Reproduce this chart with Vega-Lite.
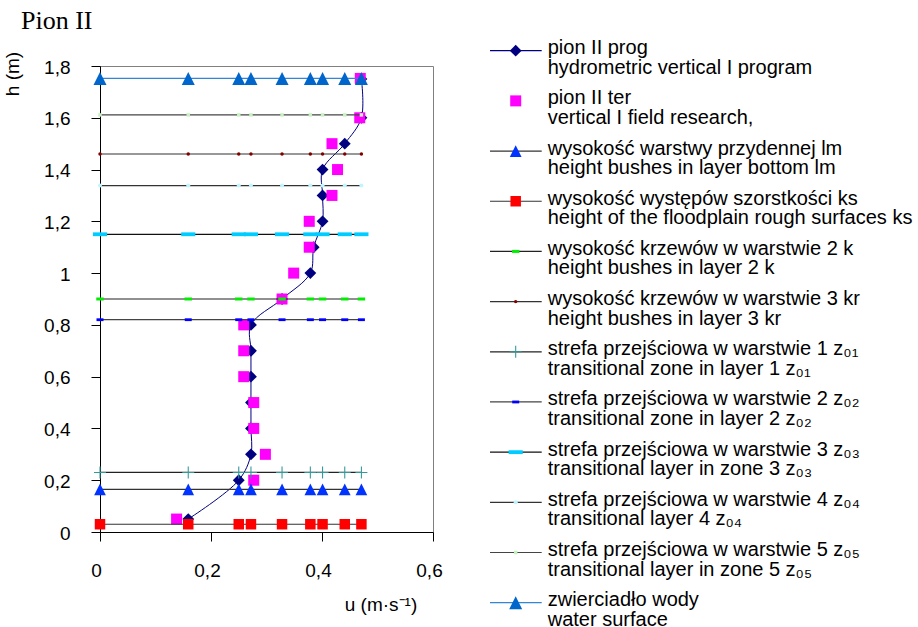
{
  "$schema": "https://vega.github.io/schema/vega-lite/v6.json",
  "padding": {"left": 3, "top": 8, "right": 0, "bottom": 0},
  "title": {"text": "Pion II", "anchor": "start", "font": "Liberation Serif", "fontSize": 26, "fontWeight": "normal", "color": "#000000", "offset": 4, "dx": 18},
  "config": {
    "view": {"stroke": "#808080", "strokeWidth": 1},
    "font": "Liberation Sans",
    "axis": {"grid": false, "domainColor": "#000000", "tickColor": "#000000", "tickSize": 9, "labelFont": "Liberation Sans", "labelFontSize": 19, "labelColor": "#000000", "titleFont": "Liberation Sans", "titleFontSize": 19, "titleFontWeight": "normal", "titleColor": "#000000", "labelOverlap": false, "labelFlush": false}
  },
  "bounds": "flush",
  "spacing": 57,
  "datasets": {
    "curves": [
      {"series": "prog", "u": 0.159, "h": 0.05},
      {"series": "prog", "u": 0.25, "h": 0.2},
      {"series": "prog", "u": 0.272, "h": 0.3},
      {"series": "prog", "u": 0.272, "h": 0.4},
      {"series": "prog", "u": 0.272, "h": 0.5},
      {"series": "prog", "u": 0.272, "h": 0.6},
      {"series": "prog", "u": 0.272, "h": 0.7},
      {"series": "prog", "u": 0.272, "h": 0.8},
      {"series": "prog", "u": 0.328, "h": 0.9},
      {"series": "prog", "u": 0.379, "h": 1.0},
      {"series": "prog", "u": 0.385, "h": 1.1},
      {"series": "prog", "u": 0.401, "h": 1.2},
      {"series": "prog", "u": 0.401, "h": 1.3},
      {"series": "prog", "u": 0.401, "h": 1.4},
      {"series": "prog", "u": 0.441, "h": 1.5},
      {"series": "prog", "u": 0.471, "h": 1.6},
      {"series": "prog", "u": 0.471, "h": 1.75},
      {"series": "ter", "u": 0.138, "h": 0.05},
      {"series": "ter", "u": 0.277, "h": 0.2},
      {"series": "ter", "u": 0.298, "h": 0.3},
      {"series": "ter", "u": 0.277, "h": 0.4},
      {"series": "ter", "u": 0.277, "h": 0.5},
      {"series": "ter", "u": 0.259, "h": 0.6},
      {"series": "ter", "u": 0.259, "h": 0.7},
      {"series": "ter", "u": 0.259, "h": 0.8},
      {"series": "ter", "u": 0.328, "h": 0.9},
      {"series": "ter", "u": 0.349, "h": 1.0},
      {"series": "ter", "u": 0.377, "h": 1.1},
      {"series": "ter", "u": 0.377, "h": 1.2},
      {"series": "ter", "u": 0.418, "h": 1.3},
      {"series": "ter", "u": 0.428, "h": 1.4},
      {"series": "ter", "u": 0.418, "h": 1.5},
      {"series": "ter", "u": 0.468, "h": 1.6},
      {"series": "ter", "u": 0.469, "h": 1.752}
    ],
    "levels": [
      {"series": "lm", "h": 0.165, "u": [0, 0.159, 0.25, 0.272, 0.328, 0.379, 0.401, 0.441, 0.471]},
      {"series": "ks", "h": 0.03, "u": [0, 0.159, 0.25, 0.272, 0.328, 0.379, 0.401, 0.441, 0.471]},
      {"series": "k", "h": 0.9, "u": [0, 0.159, 0.25, 0.272, 0.328, 0.379, 0.401, 0.441, 0.471]},
      {"series": "kr", "h": 1.46, "u": [0, 0.159, 0.25, 0.272, 0.328, 0.379, 0.401, 0.441, 0.471]},
      {"series": "z01", "h": 0.23, "u": [0, 0.159, 0.25, 0.272, 0.328, 0.379, 0.401, 0.441, 0.471]},
      {"series": "z02", "h": 0.82, "u": [0, 0.159, 0.25, 0.272, 0.328, 0.379, 0.401, 0.441, 0.471]},
      {"series": "z03", "h": 1.15, "u": [0, 0.159, 0.25, 0.272, 0.328, 0.379, 0.401, 0.441, 0.471]},
      {"series": "z04", "h": 1.338, "u": [0, 0.159, 0.25, 0.272, 0.328, 0.379, 0.401, 0.441, 0.471]},
      {"series": "z05", "h": 1.611, "u": [0, 0.159, 0.25, 0.272, 0.328, 0.379, 0.401, 0.441, 0.471]},
      {"series": "water", "h": 1.752, "u": [0, 0.159, 0.25, 0.272, 0.328, 0.379, 0.401, 0.441, 0.471]}
    ],
    "legend": [
      {"series": "prog", "label": "pion II prog\nhydrometric vertical I program"},
      {"series": "ter", "label": "pion II ter\nvertical I field research,"},
      {"series": "lm", "label": "wysokość warstwy przydennej lm\nheight bushes in layer bottom lm"},
      {"series": "ks", "label": "wysokość występów szorstkości ks\nheight of the floodplain rough surfaces ks"},
      {"series": "k", "label": "wysokość krzewów w warstwie 2 k\nheight bushes in layer 2 k"},
      {"series": "kr", "label": "wysokość krzewów w warstwie 3 kr\nheight bushes in layer 3 kr"},
      {"series": "z01", "label": "strefa przejściowa w warstwie 1 z₀₁\ntransitional zone in layer 1 z₀₁"},
      {"series": "z02", "label": "strefa przejściowa w warstwie 2 z₀₂\ntransitional zone in layer 2 z₀₂"},
      {"series": "z03", "label": "strefa przejściowa w warstwie 3 z₀₃\ntransitional layer in zone 3 z₀₃"},
      {"series": "z04", "label": "strefa przejściowa w warstwie 4 z₀₄\ntransitional layer 4 z₀₄"},
      {"series": "z05", "label": "strefa przejściowa w warstwie 5 z₀₅\ntransitional layer in zone 5 z₀₅"},
      {"series": "water", "label": "zwierciadło wody\nwater surface"}
    ]
  },
  "hconcat": [
    {
      "width": 333,
      "height": 466,
      "layer": [
        {
          "data": {"name": "curves"},
          "transform": [{"filter": "datum.series == 'prog'"}],
          "mark": {"type": "line", "interpolate": "catmull-rom", "strokeWidth": 1},
          "encoding": {
            "x": {"field": "u", "type": "quantitative", "scale": {"domain": [0, 0.6], "nice": false, "zero": false}, "axis": {"values": [0, 0.2, 0.4, 0.6], "format": ".1~f", "labelExpr": "replace(datum.label, '.', ',')", "title": "u (m·s⁻¹)", "titleX": 280.5, "titleY": 78, "titleAlign": "center", "titleBaseline": "alphabetic", "labelPadding": 20, "labelOffset": -4}},
            "y": {"field": "h", "type": "quantitative", "scale": {"domain": [0, 1.8], "nice": false, "zero": false}, "axis": {"values": [0, 0.2, 0.4, 0.6, 0.8, 1, 1.2, 1.4, 1.6, 1.8], "format": ".1~f", "labelExpr": "replace(datum.label, '.', ',')", "title": "h (m)", "titleX": -87.5, "titleY": 7.5, "titleAngle": 270, "titleAlign": "center", "titleBaseline": "middle", "labelPadding": 21, "labelOffset": 1}},
            "order": {"field": "h", "type": "quantitative"},
            "stroke": {"field": "series", "type": "nominal", "legend": null, "scale": {"type": "ordinal", "domain": ["prog", "ter", "lm", "ks", "k", "kr", "z01", "z02", "z03", "z04", "z05", "water"], "range": ["#000080", "#ffffff", "#333333", "#333333", "#222222", "#333333", "#222222", "#444444", "#111111", "#333333", "#444444", "#3385D6"]}}
          }
        },
        {
          "data": {"name": "curves"},
          "mark": {"type": "point", "filled": true, "opacity": 1, "strokeWidth": 0},
          "encoding": {
            "x": {"field": "u", "type": "quantitative"},
            "y": {"field": "h", "type": "quantitative"},
            "fill": {"field": "series", "type": "nominal", "legend": null, "scale": {"type": "ordinal", "domain": ["prog", "ter", "lm", "ks", "k", "kr", "z01", "z02", "z03", "z04", "z05", "water"], "range": ["#000080", "#FF00FF", "#0033FF", "#FF0000", "#00EE00", "#800000", "#339999", "#0000FF", "#00CCFF", "#BFF5FF", "#C6F2C0", "#0066CC"]}},
            "shape": {"field": "series", "type": "nominal", "legend": null, "scale": {"type": "ordinal", "domain": ["prog", "ter", "lm", "ks", "k", "kr", "z01", "z02", "z03", "z04", "z05", "water"], "range": ["diamond", "square", "M0,-1L1,1L-1,1Z", "square", "M-1,-0.4H1V0.4H-1Z", "circle", "M-1,-0.09H-0.09V-1H0.09V-0.09H1V0.09H0.09V1H-0.09V0.09H-1Z", "M-1,-0.4H1V0.4H-1Z", "M-1,-0.27H1V0.27H-1Z", "circle", "square", "M0,-1L1,1L-1,1Z"]}},
            "size": {"field": "series", "type": "nominal", "legend": null, "scale": {"type": "ordinal", "domain": ["prog", "ter", "lm", "ks", "k", "kr", "z01", "z02", "z03", "z04", "z05", "water"], "range": [140, 121, 137, 110, 56, 12, 144, 49, 200, 16, 12, 169]}}
          }
        },
        {
          "data": {"name": "levels"},
          "transform": [{"flatten": ["u"]}],
          "mark": {"type": "line", "strokeWidth": 1.2},
          "encoding": {
            "x": {"field": "u", "type": "quantitative"},
            "y": {"field": "h", "type": "quantitative"},
            "stroke": {"field": "series", "type": "nominal", "legend": null, "scale": {"type": "ordinal", "domain": ["prog", "ter", "lm", "ks", "k", "kr", "z01", "z02", "z03", "z04", "z05", "water"], "range": ["#000080", "#ffffff", "#333333", "#333333", "#222222", "#333333", "#222222", "#444444", "#111111", "#333333", "#444444", "#3385D6"]}}
          }
        },
        {
          "data": {"name": "levels"},
          "transform": [{"flatten": ["u"]}],
          "mark": {"type": "point", "filled": true, "opacity": 1, "strokeWidth": 0},
          "encoding": {
            "x": {"field": "u", "type": "quantitative"},
            "y": {"field": "h", "type": "quantitative"},
            "fill": {"field": "series", "type": "nominal", "legend": null, "scale": {"type": "ordinal", "domain": ["prog", "ter", "lm", "ks", "k", "kr", "z01", "z02", "z03", "z04", "z05", "water"], "range": ["#000080", "#FF00FF", "#0033FF", "#FF0000", "#00EE00", "#800000", "#339999", "#0000FF", "#00CCFF", "#BFF5FF", "#C6F2C0", "#0066CC"]}},
            "shape": {"field": "series", "type": "nominal", "legend": null, "scale": {"type": "ordinal", "domain": ["prog", "ter", "lm", "ks", "k", "kr", "z01", "z02", "z03", "z04", "z05", "water"], "range": ["diamond", "square", "M0,-1L1,1L-1,1Z", "square", "M-1,-0.4H1V0.4H-1Z", "circle", "M-1,-0.09H-0.09V-1H0.09V-0.09H1V0.09H0.09V1H-0.09V0.09H-1Z", "M-1,-0.4H1V0.4H-1Z", "M-1,-0.27H1V0.27H-1Z", "circle", "square", "M0,-1L1,1L-1,1Z"]}},
            "size": {"field": "series", "type": "nominal", "legend": null, "scale": {"type": "ordinal", "domain": ["prog", "ter", "lm", "ks", "k", "kr", "z01", "z02", "z03", "z04", "z05", "water"], "range": [140, 121, 137, 110, 56, 12, 144, 49, 200, 16, 12, 169]}}
          }
        }
      ]
    },
    {
      "width": 420,
      "height": 466,
      "view": {"stroke": null},
      "data": {"name": "legend"},
      "encoding": {
        "y": {"field": "series", "type": "nominal", "axis": null, "scale": {"type": "point", "domain": ["prog", "ter", "lm", "ks", "k", "kr", "z01", "z02", "z03", "z04", "z05", "water"], "range": [-15.3, 536.7], "padding": 0}}
      },
      "layer": [
        {
          "transform": [{"filter": "datum.series != 'ter'"}],
          "mark": {"type": "rule", "strokeWidth": 1.2},
          "encoding": {
            "x": {"datum": 0, "type": "quantitative", "axis": null, "scale": {"domain": [0, 420], "nice": false, "zero": false}},
            "x2": {"datum": 51.7},
            "stroke": {"field": "series", "type": "nominal", "legend": null, "scale": {"type": "ordinal", "domain": ["prog", "ter", "lm", "ks", "k", "kr", "z01", "z02", "z03", "z04", "z05", "water"], "range": ["#000080", "#ffffff", "#333333", "#333333", "#222222", "#333333", "#222222", "#444444", "#111111", "#333333", "#444444", "#3385D6"]}}
          }
        },
        {
          "mark": {"type": "point", "filled": true, "opacity": 1, "strokeWidth": 0},
          "encoding": {
            "x": {"datum": 25.7, "type": "quantitative"},
            "fill": {"field": "series", "type": "nominal", "legend": null, "scale": {"type": "ordinal", "domain": ["prog", "ter", "lm", "ks", "k", "kr", "z01", "z02", "z03", "z04", "z05", "water"], "range": ["#000080", "#FF00FF", "#0033FF", "#FF0000", "#00EE00", "#800000", "#339999", "#0000FF", "#00CCFF", "#BFF5FF", "#C6F2C0", "#0066CC"]}},
            "shape": {"field": "series", "type": "nominal", "legend": null, "scale": {"type": "ordinal", "domain": ["prog", "ter", "lm", "ks", "k", "kr", "z01", "z02", "z03", "z04", "z05", "water"], "range": ["diamond", "square", "M0,-1L1,1L-1,1Z", "square", "M-1,-0.4H1V0.4H-1Z", "circle", "M-1,-0.09H-0.09V-1H0.09V-0.09H1V0.09H0.09V1H-0.09V0.09H-1Z", "M-1,-0.4H1V0.4H-1Z", "M-1,-0.27H1V0.27H-1Z", "circle", "square", "M0,-1L1,1L-1,1Z"]}},
            "size": {"field": "series", "type": "nominal", "legend": null, "scale": {"type": "ordinal", "domain": ["prog", "ter", "lm", "ks", "k", "kr", "z01", "z02", "z03", "z04", "z05", "water"], "range": [140, 121, 137, 110, 56, 12, 144, 49, 200, 16, 12, 169]}}
          }
        },
        {
          "mark": {"type": "text", "align": "left", "baseline": "alphabetic", "dy": 3.5, "lineBreak": "\n", "lineHeight": 19.5, "fontSize": 20, "font": "Liberation Sans", "color": "#000000"},
          "encoding": {
            "x": {"datum": 57.7, "type": "quantitative"},
            "text": {"field": "label"}
          }
        }
      ]
    }
  ]
}
